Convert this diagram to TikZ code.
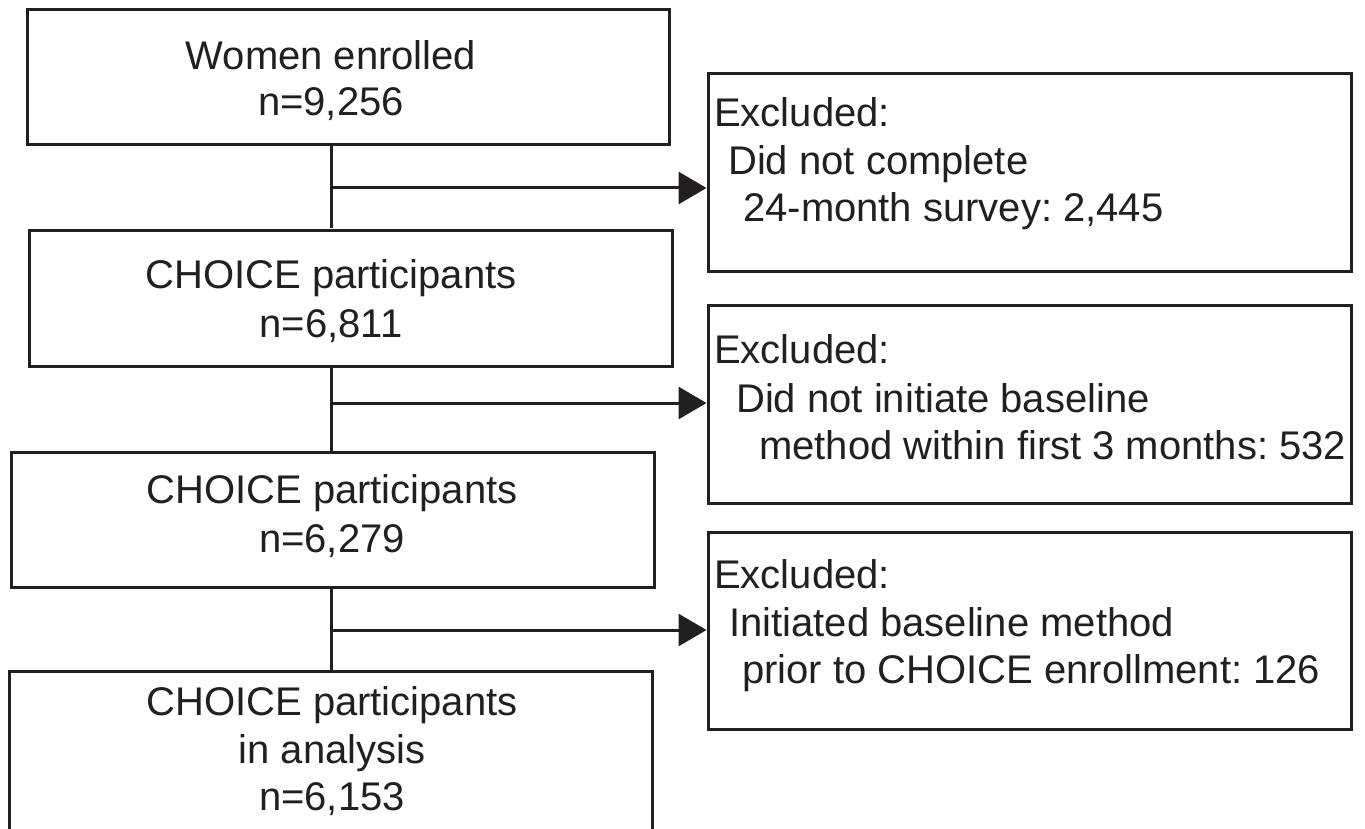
\documentclass[tikz,border=0pt]{standalone}
\usepackage{fontspec}
\setmainfont{Liberation Sans}
\usetikzlibrary{arrows.meta}
\definecolor{ink}{RGB}{35,31,32}
\frenchspacing
\tikzset{
  box/.style={draw=ink, line width=3pt, inner sep=0pt, fill=none},
  txt/.style={inner sep=0pt, text=ink, font=\fontsize{40pt}{47pt}\selectfont},
  conn/.style={draw=ink, line width=3pt},
  arr/.style={conn, -{Triangle[length=28pt,width=32pt]}}
}
\begin{document}
\begin{tikzpicture}[x=1pt,y=-1pt]
\useasboundingbox (0,0) rectangle (1365,829);
\fill[white] (0,0) rectangle (1365,829);
\clip (0,0) rectangle (1365,829);
% left boxes
\node[box, minimum width=642pt, minimum height=135pt] (b1) at (348,77.5) {};
\node[box, minimum width=643pt, minimum height=136pt] (b2) at (350.5,298) {};
\node[box, minimum width=643pt, minimum height=135pt] (b3) at (332.5,519.5) {};
\node[box, minimum width=643pt, minimum height=190pt] (b4) at (330.5,766) {};
% right boxes
\node[box, minimum width=643pt, minimum height=197pt] (r1) at (1029.5,172.5) {};
\node[box, minimum width=643pt, minimum height=198pt] (r2) at (1029.5,404) {};
\node[box, minimum width=643pt, minimum height=197pt] (r3) at (1029.5,630.5) {};
% left texts
\node[txt, anchor=base] (t1a) at (331,70) {Women enrolled};
\node[txt, anchor=base] (t1b) at (331,116) {n=9,256};
\node[txt, anchor=base] (t2a) at (331,288) {CHOICE participants};
\node[txt, anchor=base] (t2b) at (331,337) {n=6,811};
\node[txt, anchor=base] (t3a) at (332,503) {CHOICE participants};
\node[txt, anchor=base] (t3b) at (332,552) {n=6,279};
\node[txt, anchor=base] (t4a) at (332,715) {CHOICE participants};
\node[txt, anchor=base] (t4b) at (332,763) {in analysis};
\node[txt, anchor=base] (t4c) at (332,810) {n=6,153};
% right texts
\node[txt, anchor=base west] (s1a) at (714,127) {Excluded:};
\node[txt, anchor=base west] (s1b) at (728,175) {Did not complete};
\node[txt, anchor=base west] (s1c) at (743,222) {24-month survey: 2,445};
\node[txt, anchor=base west] (s2a) at (714,363) {Excluded:};
\node[txt, anchor=base west] (s2b) at (736,412) {Did not initiate baseline};
\node[txt, anchor=base west] (s2c) at (759,459) {method within first 3 months: 532};
\node[txt, anchor=base west] (s3a) at (714,588) {Excluded:};
\node[txt, anchor=base west] (s3b) at (729,636) {Initiated baseline method};
\node[txt, anchor=base west] (s3c) at (742,683) {prior to CHOICE enrollment: 126};
% junctions
\coordinate (j1) at (331,188);
\coordinate (j2) at (331,403);
\coordinate (j3) at (331,630);
% vertical connectors
\draw[conn] (b1.south -| j1) -- (b2.north -| j1);
\draw[conn] (b2.south -| j2) -- (b3.north -| j2);
\draw[conn] (b3.south -| j3) -- (b4.north -| j3);
% arrows
\draw[arr] (j1) -- (j1 -| r1.west);
\draw[arr] (j2) -- (j2 -| r2.west);
\draw[arr] (j3) -- (j3 -| r3.west);
\end{tikzpicture}
\end{document}
